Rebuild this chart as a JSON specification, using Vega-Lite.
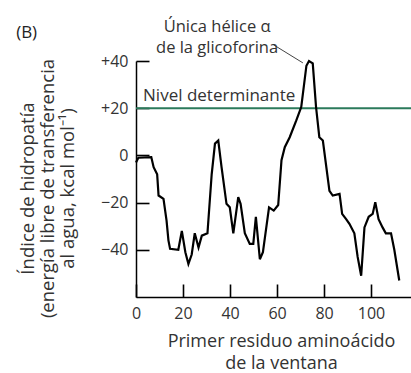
{
  "$schema": "https://vega.github.io/schema/vega-lite/v6.json",
  "width": 275,
  "height": 236,
  "autosize": "none",
  "padding": {"left": 136, "top": 61, "right": 0, "bottom": 76},
  "background": "white",
  "config": {"view": {"stroke": null}, "font": "Open Sans"},
  "layer": [
    {
      "data": {"values": [{"nivel": 20}]},
      "mark": {"type": "rule", "color": "#2b7a5b", "strokeWidth": 2},
      "encoding": {"y": {"field": "nivel", "type": "quantitative", "scale": {"domain": [-60, 40], "nice": false}}}
    },
    {
      "data": {"values": [
        {"residuo": 0, "indice": -3}, {"residuo": 1, "indice": -1}, {"residuo": 6.5, "indice": -0.7},
        {"residuo": 7.5, "indice": -5}, {"residuo": 9, "indice": -8}, {"residuo": 9.6, "indice": -17},
        {"residuo": 11.7, "indice": -18.4}, {"residuo": 13, "indice": -27.6}, {"residuo": 13.8, "indice": -36},
        {"residuo": 14.5, "indice": -39.6}, {"residuo": 18, "indice": -40}, {"residuo": 19.5, "indice": -32},
        {"residuo": 21, "indice": -41}, {"residuo": 22.3, "indice": -46}, {"residuo": 23.7, "indice": -42},
        {"residuo": 25, "indice": -33}, {"residuo": 26.6, "indice": -39}, {"residuo": 28, "indice": -34},
        {"residuo": 30.4, "indice": -33}, {"residuo": 32.2, "indice": -8}, {"residuo": 33.6, "indice": 5},
        {"residuo": 35, "indice": 6.3}, {"residuo": 36.4, "indice": -5}, {"residuo": 38.5, "indice": -20.5},
        {"residuo": 39.9, "indice": -22}, {"residuo": 41.4, "indice": -33}, {"residuo": 43.5, "indice": -17.7},
        {"residuo": 44.5, "indice": -20.5}, {"residuo": 46.3, "indice": -33}, {"residuo": 48.4, "indice": -37.5},
        {"residuo": 49.9, "indice": -37.5}, {"residuo": 51, "indice": -26}, {"residuo": 52.7, "indice": -44},
        {"residuo": 54, "indice": -41}, {"residuo": 56.6, "indice": -22}, {"residuo": 58.6, "indice": -23.4},
        {"residuo": 60.5, "indice": -21}, {"residuo": 61.9, "indice": -2}, {"residuo": 63.3, "indice": 3.5},
        {"residuo": 65.4, "indice": 7.7}, {"residuo": 68.2, "indice": 14.8}, {"residuo": 70.3, "indice": 20.5},
        {"residuo": 72.5, "indice": 38}, {"residuo": 73.6, "indice": 40}, {"residuo": 75.2, "indice": 39},
        {"residuo": 76.6, "indice": 20.5}, {"residuo": 78, "indice": 7.7}, {"residuo": 79.5, "indice": 6.3},
        {"residuo": 82.3, "indice": -15}, {"residuo": 83.7, "indice": -17}, {"residuo": 86.6, "indice": -16.3},
        {"residuo": 87.7, "indice": -24.8}, {"residuo": 89.4, "indice": -27}, {"residuo": 90.8, "indice": -29},
        {"residuo": 92.9, "indice": -33}, {"residuo": 94.3, "indice": -43}, {"residuo": 95.8, "indice": -51},
        {"residuo": 97.2, "indice": -30.5}, {"residuo": 99, "indice": -26}, {"residuo": 100.7, "indice": -24.8},
        {"residuo": 101.8, "indice": -19.8}, {"residuo": 103.2, "indice": -27}, {"residuo": 104.9, "indice": -30.5},
        {"residuo": 106.3, "indice": -33}, {"residuo": 108.5, "indice": -33}, {"residuo": 109.9, "indice": -40},
        {"residuo": 112, "indice": -53}
      ]},
      "mark": {"type": "line", "color": "black", "strokeWidth": 2.2, "clip": false},
      "encoding": {
        "x": {"field": "residuo", "type": "quantitative", "scale": {"domain": [0, 117], "nice": false},
          "axis": {"values": [0, 20, 40, 60, 80, 100], "grid": false, "ticks": true, "tickSize": 13, "labelPadding": -5,
            "domainColor": "black", "tickColor": "black", "domainWidth": 1.5, "tickWidth": 1.6,
            "encoding": {"ticks": {"y2": {"value": -13}}},
            "labelFontSize": 16, "labelColor": "#333", "labelFlush": false,
            "title": ["Primer residuo aminoácido", "de la ventana"], "titleFontSize": 18, "titleFontWeight": "normal",
            "titleColor": "#333", "titleLineHeight": 22, "titleX": 145, "titleY": 35, "titleBaseline": "top", "titleAnchor": null}},
        "y": {"field": "indice", "type": "quantitative", "scale": {"domain": [-60, 40], "nice": false},
          "axis": {"values": [-40, -20, 0, 20, 40], "grid": false, "ticks": true, "tickSize": 13, "labelPadding": -5,
            "labelExpr": "datum.value > 0 ? '+' + datum.label : datum.label",
            "domainColor": "black", "tickColor": "black", "domainWidth": 1.5, "tickWidth": 1.6,
            "encoding": {"ticks": {"x2": {"value": 13}}},
            "labelFontSize": 16, "labelColor": "#333", "labelFlush": false,
            "title": ["Índice de hidropatía", "(energía libre de transferencia", "al agua, kcal mol⁻¹)"],
            "titleFontSize": 18.5, "titleFontWeight": "normal", "titleColor": "#333", "titleLineHeight": 20,
            "titleX": -118, "titleY": 127, "titleBaseline": "top", "titleAlign": "center"}}
      }
    },
    {
      "data": {"values": [{}]},
      "mark": {"type": "rule", "color": "#444", "strokeWidth": 1, "clip": false},
      "encoding": {"x": {"datum": 58.3}, "y": {"datum": 47}, "x2": {"datum": 71}, "y2": {"datum": 39.2}}
    },
    {
      "data": {"values": [{}]},
      "mark": {"type": "text", "text": "(B)", "fontSize": 17, "color": "#222", "align": "left", "baseline": "middle", "clip": false},
      "encoding": {"x": {"datum": -51}, "y": {"datum": 52}}
    },
    {
      "data": {"values": [{}]},
      "mark": {"type": "text", "text": "Única hélice α", "fontSize": 16.5, "color": "#333", "align": "center", "baseline": "middle", "clip": false},
      "encoding": {"x": {"datum": 34.5}, "y": {"datum": 54.4}}
    },
    {
      "data": {"values": [{}]},
      "mark": {"type": "text", "text": "de la glicoforina", "fontSize": 16.5, "color": "#333", "align": "center", "baseline": "middle", "clip": false},
      "encoding": {"x": {"datum": 34.5}, "y": {"datum": 45.5}}
    },
    {
      "data": {"values": [{}]},
      "mark": {"type": "text", "text": "Nivel determinante", "fontSize": 17, "color": "#333", "align": "left", "baseline": "bottom", "clip": false},
      "encoding": {"x": {"datum": 3}, "y": {"datum": 21.5}}
    }
  ]
}
